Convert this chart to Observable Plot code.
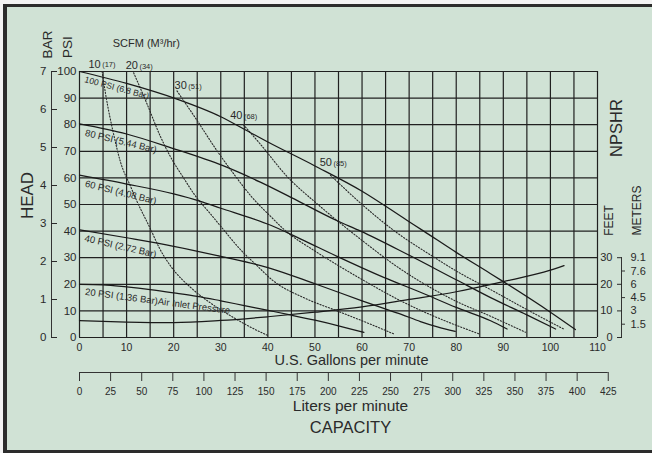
<!DOCTYPE html>
<html><head><meta charset="utf-8">
<script src="https://cdn.jsdelivr.net/npm/d3@7"></script>
<script src="https://cdn.jsdelivr.net/npm/@observablehq/plot@0.6"></script>
<style>
html,body{margin:0;padding:0;background:#f3f3f3;width:652px;height:453px;overflow:hidden;}
#panel{position:absolute;left:3px;top:4px;width:660px;height:449px;background:#d0e2d5;border-left:4px solid #2c2c2c;border-top:3px solid #2c2c2c;border-bottom:3px solid #2c2c2c;box-sizing:border-box;}
#chart{position:absolute;left:0;top:0;}
</style></head><body>
<div id="panel"></div>
<div id="chart"></div>
<script>
// ---- axis ticks / labels ----
const gpmTicks = [0,10,20,30,40,50,60,70,80,90,100,110];
const gpmGrid = [0,5,10,15,20,25,30,35,40,45,50,55,60,65,70,75,80,85,90,95,100,105,110];
const psiTicks = [0,10,20,30,40,50,60,70,80,90,100];
const barTicks = [0,1,2,3,4,5,6,7];
const literTicks = [0,25,50,75,100,125,150,175,200,225,250,275,300,325,350,375,400,425];
const feetTicks = [0,10,20,30];
const feetMinor = [5,15,25];
const meterFeet = [5,10,15,20,25,30];
const meterLabels = ["1.5","3","4.5","6","7.6","9.1"];
const L_PER_GAL = 3.785;

// ---- head curves at air inlet pressure: [gpm, psi] ----
const head100 = [[0,100],[10,95.5],[20.7,89.6],[30,83],[36.3,77],[40,73.5],[50,64.5],[60,55],[69.6,44],[73.1,40],[80,32],[87.3,24],[90,21],[100,9.5],[105.3,3]];
const head80 = [[0,80.3],[10,76.5],[19.3,71.4],[30.6,64.5],[38.4,58.4],[45,52.6],[54.7,43.9],[59.7,40],[69.6,31.3],[80,21.7],[87.3,15],[95,8.5],[101.1,3.2]];
const head60 = [[0,61],[10,57.7],[20,54],[25.7,51.2],[30,48.6],[36.3,45],[40.6,42.2],[47,37],[54.7,30.5],[64.6,22.6],[72.4,17],[80,11.3],[87.3,6.3],[90.8,3.2]];
const head40 = [[0,40.5],[10,37.5],[20,34.3],[30,30.5],[40,26.3],[50,20.2],[60,13.8],[64,11.3],[68.2,8.8],[72.4,6],[76,4],[79.8,2.3]];
const head20 = [[0,20],[5,19.8],[10,19],[15,18],[20,16.8],[25,15.5],[30,13.8],[35,12],[40.6,10],[45,8.4],[50,6.5],[55,4.4],[60.4,1.9]];
const npshr = [[0,6.3],[10,5.8],[20,5.6],[30,6.4],[40,7.8],[50,9.5],[60,11.5],[70,14.3],[80,17.2],[90,21],[100,25.3],[102.9,27]];

// ---- air consumption curves (SCFM): [gpm, psi] ----
const scfm10 = [[4.8,100],[5.5,92],[7.3,76],[8.7,66],[10.8,57],[12,52],[15.1,40.7],[17,33.5],[19.5,26.5],[23.6,18.8],[27.8,13],[32.7,7.5],[36,4.2],[39.9,0.8]];
const scfm20 = [[11.5,99.5],[14.3,88],[17.2,75.5],[19.3,68],[22.1,60],[24.5,53.5],[27.8,46.5],[30.6,40.5],[34.2,33],[37.7,27],[41,21.5],[47.6,15],[54.7,10],[61.8,5],[66.8,1.3]];
const scfm30 = [[20.7,92.7],[25,81.5],[29.2,70.2],[32.8,61.4],[36.5,53],[40.6,45.5],[43.5,40.5],[50,32.5],[55,27],[60,21.8],[68.2,13.8],[75,8.2],[80,4.6],[84.8,1.4]];
const scfm40 = [[34.8,80],[38.4,72.7],[44.1,60.5],[50.5,50.2],[53.3,46],[60,36.5],[68.2,25.7],[75,18.3],[80,13.6],[87.3,8],[94.7,2]];
const scfm50 = [[53.3,61],[60,50],[66.7,40.3],[75,30.5],[80,25],[87.3,18],[95,10.5],[102.9,3.1]];

// ---- labels ----
const pressureNames = ["100 PSI (6.8 Bar)","80 PSI (5.44 Bar)","60 PSI (4.08 Bar)","40 PSI (2.72 Bar)","20 PSI (1.36 Bar)Air Inlet Pressure"];
const pressureLabelGpm = [1.3,1.4,1.4,1.3,1.3];
const pressureLabelHead = [98.3,78.3,59.2,38.7,18.6];
const pressureLabelAngle = [15,13.5,14,13,7.5];
const scfmValues = [10,20,30,40,50];
const m3Values = [17,34,51,68,85];
const scfmLabelGpm = [4.5,12.4,22.8,34.6,53.6];
const scfmLabelHead = [102.8,102.1,94.6,83.3,65.8];

const solids = [head100, head80, head60, head40, head20, npshr];
const dotted = [scfm10, scfm20, scfm30, scfm40, scfm50];
const solidRows = solids.flatMap((c, k) => c.map(([g, h]) => ({k, g, h})));
const dottedRows = dotted.flatMap((c, k) => c.map(([g, h]) => ({k, g, h})));

const ink = "#202020";
const txt = "#2a2a2a";
const title = (s, frameAnchor, dx, dy, fontSize, rotate = 0) =>
  Plot.text([s], {frameAnchor, dx, dy, rotate, fontSize, textAnchor: "middle", lineAnchor: "middle", fill: txt});

const chart = Plot.plot({
  width: 652, height: 453,
  marginLeft: 79, marginRight: 55, marginTop: 71, marginBottom: 116,
  style: {background: "transparent", fontFamily: "'Liberation Sans', Arial, sans-serif", color: txt, overflow: "visible"},
  x: {domain: [0, 110], label: null},
  y: {domain: [0, 100], label: null},
  marks: [
    Plot.gridX(gpmGrid, {stroke: ink, strokeOpacity: 1, strokeWidth: 1.2}),
    Plot.gridY(psiTicks, {stroke: ink, strokeOpacity: 1, strokeWidth: 1.2}),
    // PSI axis
    Plot.axisY(psiTicks, {anchor: "left", tickSize: 0, tickPadding: 3, fontSize: 11.5}),
    // BAR axis
    Plot.ruleX([0], {y1: 0, y2: 100, dx: -28, stroke: "#333"}),
    Plot.axisY(barTicks.map(b => b * 100 / 7), {anchor: "left", dx: -28, tickSize: -6, tickPadding: 11, tickFormat: d => Math.round(d * 7 / 100), fontSize: 11.5}),
    // gallons axis
    Plot.axisX(gpmTicks, {anchor: "bottom", tickSize: 0, tickPadding: 6, fontSize: 10.5}),
    // liters axis
    Plot.ruleY([0], {x1: 0, x2: literTicks[literTicks.length - 1] / L_PER_GAL, dy: 35, stroke: "#333"}),
    Plot.axisX(literTicks.map(l => l / L_PER_GAL), {anchor: "bottom", dy: 35, tickSize: 9, tickPadding: 6, tickFormat: d => Math.round(d * L_PER_GAL), fontSize: 10, stroke: "#333"}),
    // NPSHR axis
    Plot.ruleX([110], {y1: 0, y2: 30, dx: 24, stroke: "#333"}),
    Plot.axisY(feetTicks, {anchor: "right", dx: 24, tickSize: -5, tickPadding: -4, textAnchor: "end", fontSize: 11}),
    Plot.ruleY(feetMinor, {x1: 110, x2: 110, insetRight: -4, dx: 24, stroke: "#333"}),
    Plot.axisY(meterFeet, {anchor: "right", dx: 24, tickSize: 0, tickPadding: 9, tickFormat: d => meterLabels[meterFeet.indexOf(d)], fontSize: 11}),
    // curves
    Plot.line(dottedRows, {x: "g", y: "h", z: "k", curve: "monotone-x", stroke: "#2a2a2a", strokeWidth: 1.1, strokeDasharray: "1.2,1.8"}),
    Plot.line(solidRows, {x: "g", y: "h", z: "k", curve: "monotone-x", stroke: "#1a1a1a", strokeWidth: 1.25}),
    // curve labels
    Plot.text(pressureNames, {x: (d, i) => pressureLabelGpm[i], y: (d, i) => pressureLabelHead[i], text: d => d, rotate: (d, i) => pressureLabelAngle[i], textAnchor: "start", lineAnchor: "top", fontSize: (d, i) => i === 0 ? 8.6 : 9.5, fontStyle: (d, i) => i === 0 ? "italic" : "normal", fill: txt}),
    Plot.text(scfmValues, {x: (d, i) => scfmLabelGpm[i], y: (d, i) => scfmLabelHead[i], text: d => String(d), textAnchor: "end", fontSize: 11, fill: txt}),
    Plot.text(m3Values, {x: (d, i) => scfmLabelGpm[i], y: (d, i) => scfmLabelHead[i], text: d => `(${d})`, textAnchor: "start", dx: 1.5, dy: 1, fontSize: 7.5, fill: txt}),
    // titles
    title("SCFM (M³/hr)", "top-left", 66.8, -28, 11),
    title("BAR", "top-left", -31.5, -27, 13.5, -90),
    title("PSI", "top-left", -11.5, -24.3, 13.5, -90),
    title("HEAD", "left", -52, -9, 17, -90),
    title("NPSHR", "top-right", 19.7, 56.5, 16.5, -90),
    title("FEET", "top-right", 12, 149, 12, -90),
    title("METERS", "top-right", 40, 139, 12, -90),
    title("U.S. Gallons per minute", "bottom", 13, 23.3, 14.5),
    title("Liters per minute", "bottom", 12, 68.3, 15.5),
    title("CAPACITY", "bottom", 12, 90.3, 16.5)
  ]
});
document.getElementById("chart").appendChild(chart);
</script>
</body></html>
